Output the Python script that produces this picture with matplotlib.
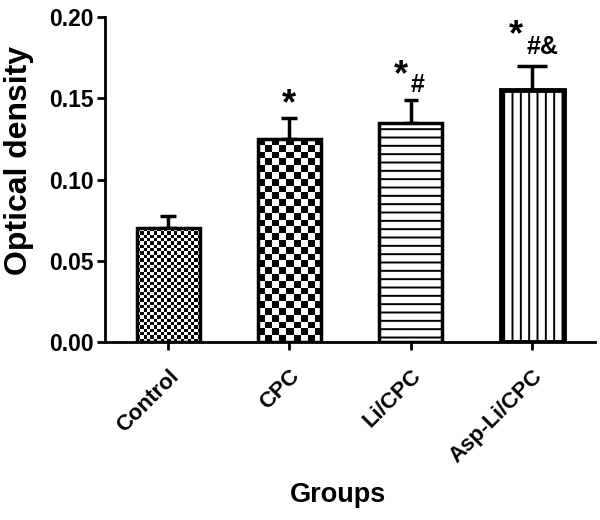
import numpy as np
import matplotlib
matplotlib.use('Agg')
import matplotlib.pyplot as plt

groups = ['Control', 'CPC', 'Li/CPC', 'Asp-Li/CPC']
means = [0.070, 0.125, 0.135, 0.155]
errs = [0.0075, 0.013, 0.014, 0.015]
marks = [[], [('*', 0, 13)], [('*', -10, 24), ('#', 7, 15)],
         [('*', -16, 30), ('#&', 11, 19)]]

plt.rcParams['font.family'] = ['Liberation Sans', 'DejaVu Sans']
plt.rcParams['hatch.linewidth'] = 1.4

fig = plt.figure(figsize=(6, 5.2), dpi=100)
ax = fig.add_axes([0.175, 0.3423, 0.817, 0.625])
ax.set_xlim(-0.52, 3.52)
ax.set_ylim(0, 0.2)

x = np.arange(len(groups))
width = 0.52
hatches = [None, None, '--', '||']
bars = ax.bar(x, means, width, color='white', edgecolor='black',
              linewidth=2.5, zorder=3)
for b, h in zip(bars, hatches):
    if h:
        b.set_hatch(h)
bars[3].set_linewidth(3.5)

# checkerboard textures for the first two bars
fig.canvas.draw()
for b, sq in [(bars[0], 3.3), (bars[1], 6.8)]:
    x0, y0 = b.get_x(), b.get_y()
    x1, y1 = x0 + b.get_width(), y0 + b.get_height()
    p0 = ax.transData.transform((x0, y0))
    p1 = ax.transData.transform((x1, y1))
    nc = max(1, int(round((p1[0] - p0[0]) / sq)))
    nr = max(1, int(round((p1[1] - p0[1]) / sq)))
    img = (np.indices((nr, nc)).sum(axis=0) % 2).astype(float)
    im = ax.imshow(img, cmap='gray', extent=[x0, x1, y0, y1], aspect='auto',
                   interpolation='nearest', zorder=2.5)
    im.set_clip_path(b)
    b.set_facecolor('none')

caps = [5.5, 6, 5, 11]
for i in range(len(groups)):
    ax.errorbar(x[i], means[i], yerr=[[0], [errs[i]]], fmt='none',
                ecolor='black', elinewidth=2.5, capsize=caps[i],
                capthick=2.5, zorder=2)
    for txt, dx, dy in marks[i]:
        fs = 26 if txt == '*' else 18
        ax.annotate(txt, xy=(x[i], means[i] + errs[i]),
                    xytext=(dx * 0.72, dy * 0.72), textcoords='offset points',
                    ha='center', va='center', fontsize=fs, fontweight='bold')

ax.spines['top'].set_visible(False)
ax.spines['right'].set_visible(False)
ax.spines['left'].set_linewidth(2)
ax.spines['bottom'].set_linewidth(2)
ax.set_yticks([0, 0.05, 0.10, 0.15, 0.20])
ax.set_yticklabels(['0.00', '0.05', '0.10', '0.15', '0.20'],
                   fontsize=16.5, fontweight='bold')
ax.set_xticks(x)
ax.set_xticklabels(groups, rotation=45, ha='right', rotation_mode='anchor',
                   fontsize=16, fontweight='bold')
ax.tick_params(width=2, length=6)
ax.tick_params(axis='y', pad=2)
ax.tick_params(axis='x', pad=11)
ax.set_ylabel('Optical density', fontsize=23, fontweight='bold')
ax.set_xlabel('Groups', fontsize=19.5, fontweight='bold')
ax.yaxis.set_label_coords(-0.145, 0.56)
ax.xaxis.set_label_coords(0.476, -0.431)

fig.savefig('out.png', dpi=100)
